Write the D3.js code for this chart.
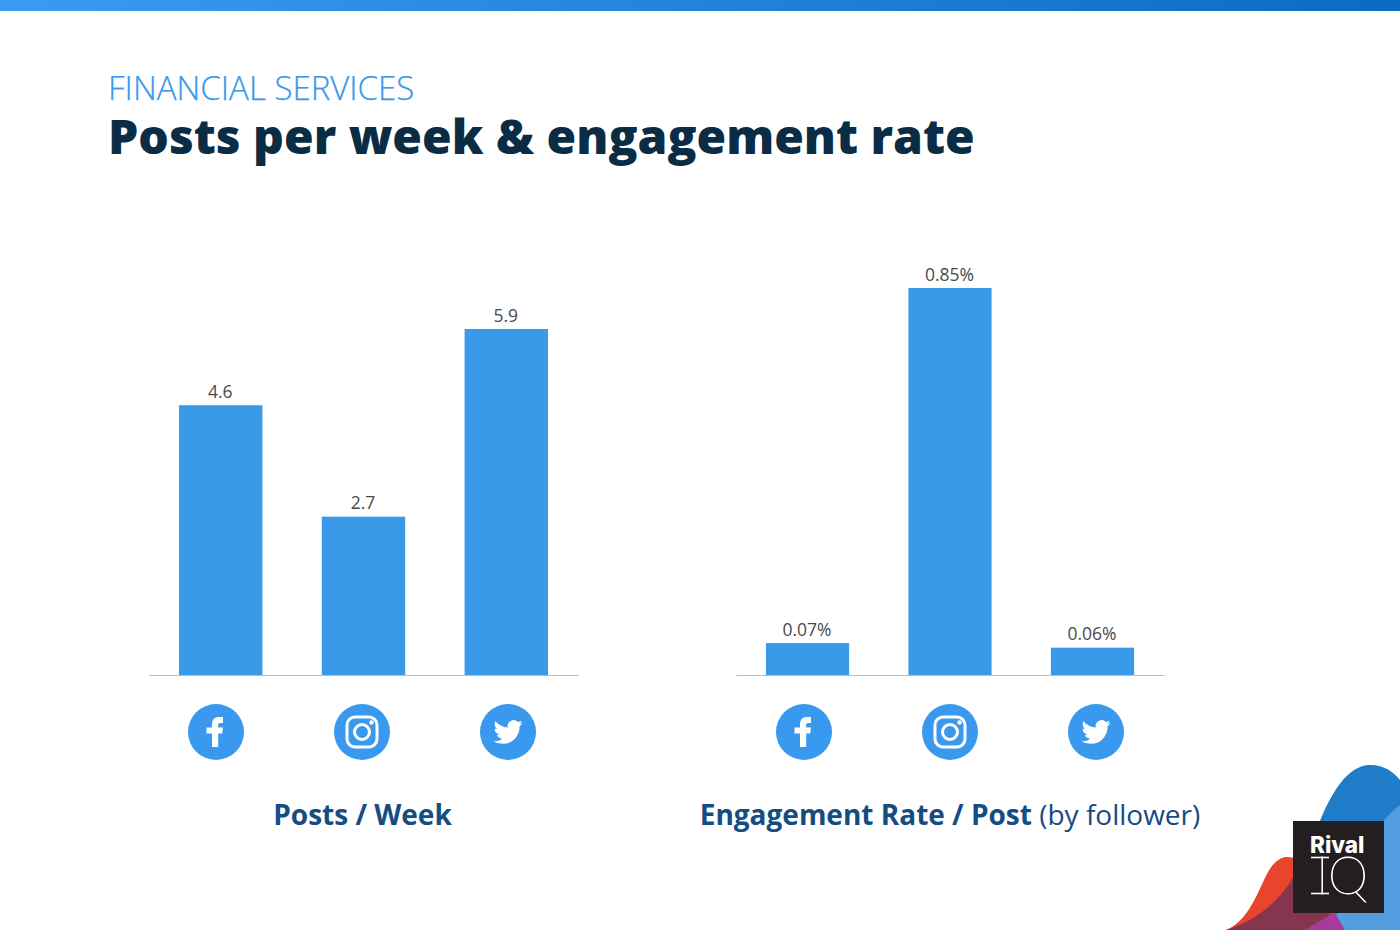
<!DOCTYPE html>
<html>
<head>
<meta charset="utf-8">
<script src="https://cdn.jsdelivr.net/npm/d3@7"></script>
<style>
  html, body { margin: 0; padding: 0; background: #fff; }
  svg { display: block; font-family: "Open Sans", sans-serif; }
</style>
</head>
<body>
<div id="chart"></div>
<script>
const networks = ['facebook', 'instagram', 'twitter'];
const postsPerWeek = [4.6, 2.7, 5.9];
const engagementRate = [0.07, 0.85, 0.06];
const postsLabels = ['4.6', '2.7', '5.9'];
const engagementLabels = ['0.07%', '0.85%', '0.06%'];

const width = 1400, height = 930;
const baseline = 675;

const svg = d3.select('#chart').append('svg')
  .attr('width', width)
  .attr('height', height);

// top stripe
const grad = svg.append('defs').append('linearGradient').attr('id', 'stripe');
grad.append('stop').attr('offset', '0%').attr('stop-color', '#3a9cf0');
grad.append('stop').attr('offset', '100%').attr('stop-color', '#0a6bc2');
svg.append('rect').attr('width', width).attr('height', 11).attr('fill', 'url(#stripe)');

svg.append('text')
  .attr('x', 108).attr('y', 100)
  .attr('font-size', 33).attr('fill', '#3899ee')
  .attr('font-weight', 300).attr('stroke', '#3899ee').attr('stroke-width', 0.25)
  .text('FINANCIAL SERVICES');

svg.append('text')
  .attr('x', 108).attr('y', 154)
  .attr('font-size', 48).attr('font-weight', 800).attr('fill', '#0a2c44')
  .text('Posts per week & engagement rate');

function drawPanel(values, labels, maxValue, pxHeight, x0, x1, iconStart) {
  const x = d3.scaleBand().domain(networks).range([x0, x1]).paddingInner(0.416).paddingOuter(0.21);
  const y = d3.scaleLinear().domain([0, maxValue]).range([baseline, baseline - pxHeight]);
  const g = svg.append('g');

  g.selectAll('rect.bar').data(values).enter()
    .append('rect')
    .attr('class', 'bar')
    .attr('x', (d, i) => x(networks[i]))
    .attr('y', d => y(d))
    .attr('width', x.bandwidth())
    .attr('height', d => baseline - y(d))
    .attr('fill', '#3a9aea');

  g.selectAll('text.val').data(values).enter()
    .append('text')
    .attr('class', 'val')
    .attr('x', (d, i) => x(networks[i]) + x.bandwidth() / 2 - 0.5)
    .attr('y', d => y(d) - 7.5)
    .attr('text-anchor', 'middle')
    .attr('font-size', 17.5).attr('fill', '#4a4a4a')
    .text((d, i) => labels[i]);

  const axis = g.append('g')
    .attr('transform', 'translate(0,' + baseline + ')')
    .call(d3.axisBottom(x).tickValues([]).tickSize(0));
  axis.select('.domain').attr('stroke', '#bdbdbd');

  // icons sit on their own spacing, a bit wider than the bars
  const iconX = d3.scalePoint().domain(networks).range([iconStart, iconStart + 292]);
  networks.forEach(n => drawIcon(g.append('g').attr('transform', 'translate(' + iconX(n) + ',732)'), n));
}

function drawIcon(g, name) {
  g.append('circle').attr('r', 28).attr('fill', '#3899ee');
  if (name == 'facebook') {
    g.append('path').attr('fill', '#fff')
      .attr('d', 'M-4 15V1.5H-9.5V-4.5H-4V-8C-4 -12.5 -1 -15 2.5 -15H7V-9H4.2C2.7 -9 2.2 -8.2 2.2 -7V-4.5H7L6.2 1.5H2.2V15Z');
  } else if (name == 'instagram') {
    g.append('rect').attr('x', -15).attr('y', -15).attr('width', 30).attr('height', 30).attr('rx', 8)
      .attr('fill', 'none').attr('stroke', '#fff').attr('stroke-width', 3);
    g.append('circle').attr('r', 7.5).attr('fill', 'none').attr('stroke', '#fff').attr('stroke-width', 3);
    g.append('circle').attr('cx', 9.5).attr('cy', -9.5).attr('r', 2.2).attr('fill', '#fff');
  } else {
    g.append('path').attr('fill', '#fff')
      .attr('transform', 'translate(-14.5,-14.5) scale(1.21)')
      .attr('d', 'M23.953 4.57a10 10 0 01-2.825.775 4.958 4.958 0 002.163-2.723c-.951.555-2.005.959-3.127 1.184a4.92 4.92 0 00-8.384 4.482C7.69 8.095 4.067 6.13 1.64 3.162a4.822 4.822 0 00-.666 2.475c0 1.71.87 3.213 2.188 4.096a4.904 4.904 0 01-2.228-.616v.06a4.923 4.923 0 003.946 4.827 4.996 4.996 0 01-2.212.085 4.936 4.936 0 004.604 3.417 9.867 9.867 0 01-6.102 2.105c-.39 0-.779-.023-1.17-.067a13.995 13.995 0 007.557 2.209c9.053 0 13.998-7.496 13.998-13.985 0-.21 0-.42-.015-.63A9.935 9.935 0 0024 4.59z');
  }
}

drawPanel(postsPerWeek, postsLabels, 5.9, 346, 149, 578, 216);
drawPanel(engagementRate, engagementLabels, 0.85, 387, 736, 1164, 804);

svg.append('text')
  .attr('x', 362.5).attr('y', 825)
  .attr('text-anchor', 'middle')
  .attr('font-size', 28).attr('font-weight', 700).attr('fill', '#154c82')
  .text('Posts / Week');

const engLabel = svg.append('text')
  .attr('x', 950).attr('y', 825)
  .attr('text-anchor', 'middle')
  .attr('font-size', 28).attr('fill', '#154c82');
engLabel.append('tspan').attr('font-weight', 700).text('Engagement Rate / Post');
engLabel.append('tspan').text(' (by follower)');

// logo blobs
const logo = svg.append('g');
logo.append('path').attr('fill', '#1f7cc8')
  .attr('d', 'M1290 930C1300 880 1325 765 1370 765C1385 765 1393 772 1400 780V930Z');
logo.append('path').attr('fill', '#539ee0')
  .attr('d', 'M1330 930C1345 900 1365 830 1400 805V930Z');
logo.append('path').attr('fill', '#a83a9e')
  .attr('d', 'M1300 930C1315 920 1325 912 1330 905L1345 930Z');
logo.append('path').attr('fill', '#e8452c')
  .attr('d', 'M1226 930C1250 920 1258 890 1268 872C1275 860 1282 857 1287 857C1300 857 1310 870 1320 890L1300 930Z');
logo.append('path').attr('fill', '#85364e')
  .attr('d', 'M1226 930C1260 920 1285 895 1295 873L1330 915L1305 930Z');
logo.append('rect').attr('x', 1293).attr('y', 821).attr('width', 91).attr('height', 92).attr('fill', '#231f20');
logo.append('text')
  .attr('x', 1310).attr('y', 853)
  .attr('font-family', 'Inter, sans-serif').attr('font-size', 22.5).attr('font-weight', 800).attr('fill', '#fff')
  .text('Rival');
logo.append('text')
  .attr('x', 1316).attr('y', 894)
  .attr('font-family', 'Lato, sans-serif').attr('font-size', 51).attr('font-weight', 100)
  .attr('fill', '#fff').attr('stroke', '#fff').attr('stroke-width', 0.8)
  .text('I');
logo.append('text')
  .attr('x', 1328).attr('y', 894)
  .attr('font-family', 'Lato, sans-serif').attr('font-size', 51).attr('font-weight', 100)
  .attr('fill', '#fff').attr('stroke', '#fff').attr('stroke-width', 0.8)
  .text('Q');
logo.selectAll('line.serif').data([857.5, 893.5]).enter()
  .append('line')
  .attr('class', 'serif')
  .attr('x1', 1311).attr('x2', 1329)
  .attr('y1', d => d).attr('y2', d => d)
  .attr('stroke', '#fff').attr('stroke-width', 1.6);
</script>
</body>
</html>
